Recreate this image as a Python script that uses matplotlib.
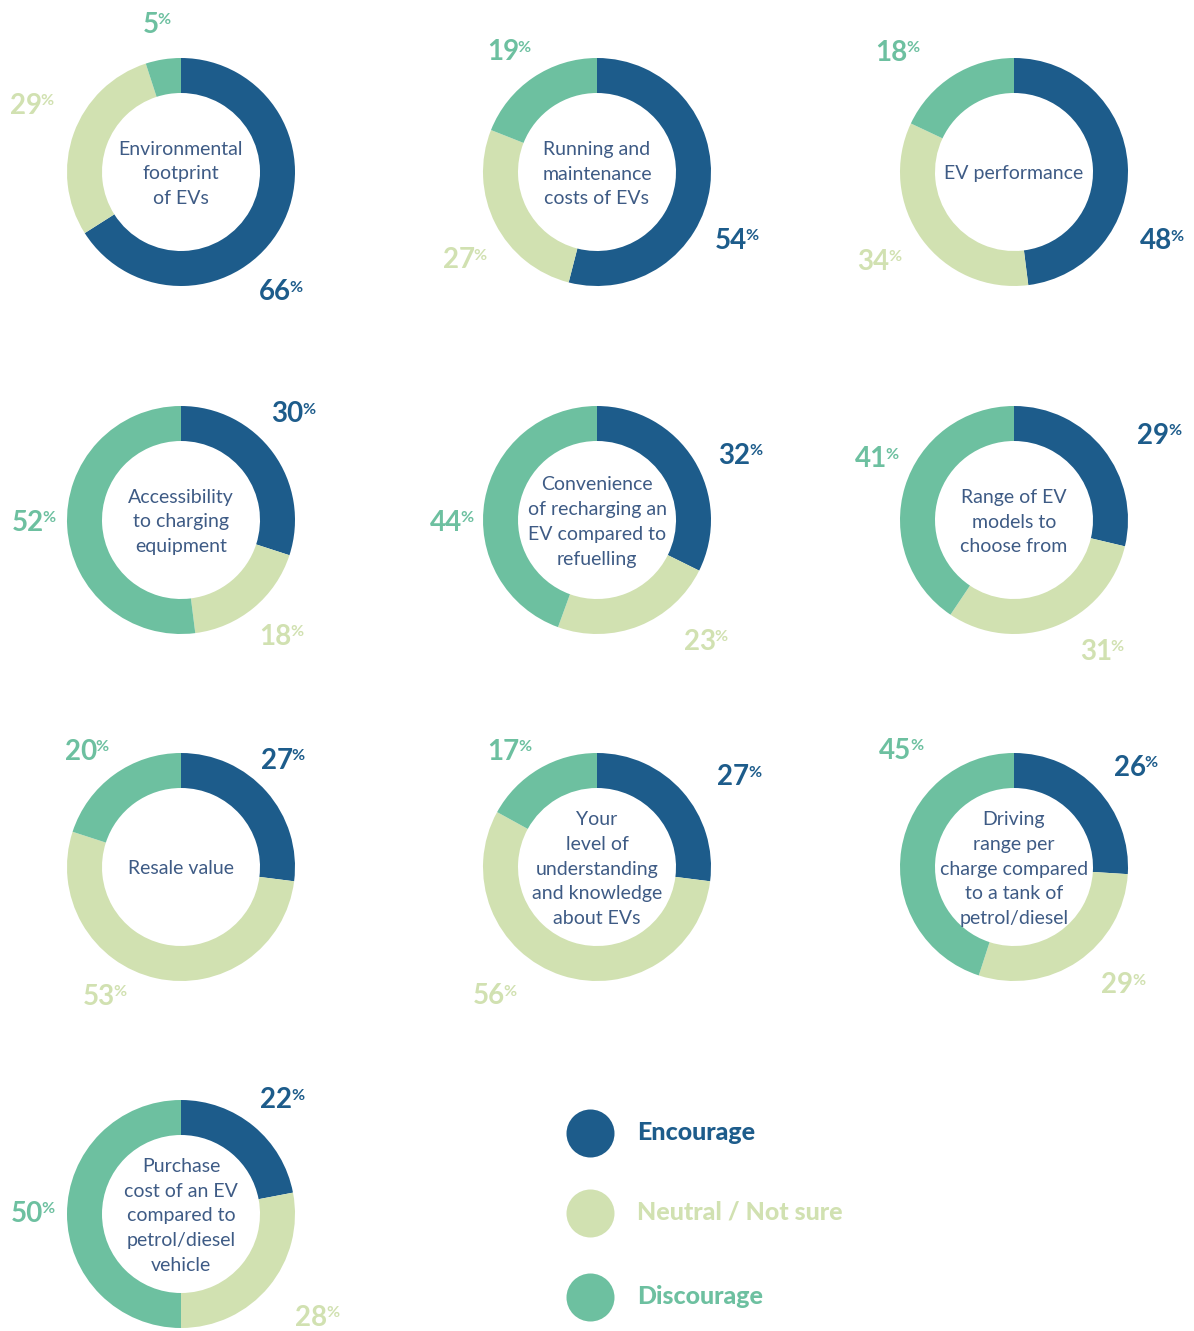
import matplotlib
matplotlib.use("Agg")
import matplotlib.pyplot as plt
import numpy as np

# ---- data ----
topics = [
    "Environmental\nfootprint\nof EVs",
    "Running and\nmaintenance\ncosts of EVs",
    "EV performance",
    "Accessibility\nto charging\nequipment",
    "Convenience\nof recharging an\nEV compared to\nrefuelling",
    "Range of EV\nmodels to\nchoose from",
    "Resale value",
    "Your\nlevel of\nunderstanding\nand knowledge\nabout EVs",
    "Driving\nrange per\ncharge compared\nto a tank of\npetrol/diesel",
    "Purchase\ncost of an EV\ncompared to\npetrol/diesel\nvehicle",
]
encourage = [66, 54, 48, 30, 32, 29, 27, 27, 26, 22]
neutral = [29, 27, 34, 18, 23, 31, 53, 56, 29, 28]
discourage = [5, 19, 18, 52, 44, 41, 20, 17, 45, 50]
series_names = ["Encourage", "Neutral / Not sure", "Discourage"]

# ---- style / layout ----
colors = ["#1d5c8b", "#d1e1b1", "#6dc0a0"]
text_color = "#3e5b85"
W, H = 1194, 1331
col_x = [181, 597, 1014]
row_y = [172, 520, 867, 1214]
R_OUT, R_W = 114, 35
# label placement: (angle clockwise from top in degrees, distance in px)
label_pos = [
    [(140, 157), (294, 162), (351, 149)],
    [(116, 157), (236, 158), (324, 148)],
    [(115, 164), (236, 161), (316, 166)],
    [(47, 155), (139, 155), (269, 146)],
    [(66, 158), (138, 164), (269, 144)],
    [(60, 169), (146, 159), (294, 149)],
    [(44, 148), (210, 150), (321, 148)],
    [(58, 169), (218, 164), (323, 144)],
    [(51, 158), (137, 162), (316, 161)],
    [(42, 153), (127, 172), (270, 147)],
]
FONT = ["Lato", "DejaVu Sans"]

fig = plt.figure(figsize=(W / 100, H / 100), dpi=100)
ax = fig.add_axes([0, 0, 1, 1])

for i, topic in enumerate(topics):
    cx = col_x[i % 3]
    cy = H - row_y[i // 3]
    vals = [encourage[i], neutral[i], discourage[i]]
    ax.pie(vals, colors=colors, center=(cx, cy), radius=R_OUT, startangle=90,
           counterclock=False, wedgeprops=dict(width=R_W, linewidth=0),
           frame=True)
    ax.text(cx, cy - 2, topic, ha="center", va="center", fontsize=14,
            color=text_color, family=FONT, fontweight="normal", linespacing=1.55)
    for k, v in enumerate(vals):
        ang, dist = label_pos[i][k]
        a = np.deg2rad(ang)
        lx = cx + dist * np.sin(a) - 7
        ly = cy + dist * np.cos(a)
        t = ax.text(lx, ly, f"{v}", ha="center", va="center", fontsize=20,
                    fontweight="bold", color=colors[k], family=FONT)
        ax.annotate("%", xy=(1.0, 0.95), xycoords=t, ha="left", va="top",
                    fontsize=11.5, fontweight="bold", color=colors[k], family=FONT,
                    xytext=(-1, 0), textcoords="offset points")

# legend
leg_x = 590
leg_y = [1133, 1213, 1297]
for k, name in enumerate(series_names):
    ax.scatter([leg_x], [H - leg_y[k]], s=(48 * 0.72) ** 2, color=colors[k],
               linewidths=0)
    ax.text(637, H - leg_y[k] + 1, name, ha="left", va="center", fontsize=18,
            fontweight="black", color=colors[k], family=FONT)

ax.set_xlim(0, W)
ax.set_ylim(0, H)
ax.set_aspect("equal")
ax.axis("off")
fig.savefig("out.png", dpi=100, facecolor="white")
